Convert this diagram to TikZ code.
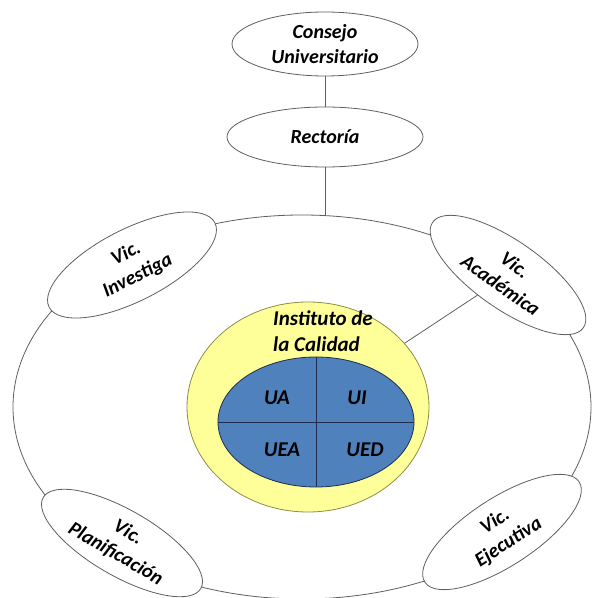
\documentclass[tikz,border=0pt]{standalone}
\usepackage{fontspec}
\setmainfont{Carlito}
\usepackage{tikz}
\usetikzlibrary{shapes.geometric}

\definecolor{linegray}{RGB}{95,95,95}
\definecolor{instyellow}{RGB}{255,255,153}
\definecolor{instedge}{RGB}{140,140,70}
\definecolor{unitblue}{RGB}{79,129,189}
\definecolor{unitedge}{RGB}{30,45,80}

\begin{document}
\begin{tikzpicture}[x=1pt, y=1pt,
  org/.style={ellipse, draw=linegray, line width=0.8pt, fill=white, inner sep=0pt,
    align=center, font=\fontsize{20}{25}\selectfont\bfseries\itshape},
  lbl/.style={inner sep=0pt, font=\fontsize{21}{26}\selectfont\bfseries\itshape}]
  \useasboundingbox (0,0) rectangle (592,598);

  \node[org, minimum width=578, minimum height=384] (ring) at (302,191) {};
  \node[org, minimum width=186, minimum height=64] (cu) at (325,554) {Consejo\\Universitario};
  \node[org, minimum width=196, minimum height=60] (rect) at (325,461) {Rectoría};

  \node[org, minimum width=186, minimum height=72, rotate=27] (inv) at (132,333) {Vic.\\Investiga};
  \node[org, minimum width=184, minimum height=68, rotate=-35] (acad) at (508,323) {Vic.\\Académica};
  \node[org, minimum width=182, minimum height=66, rotate=-30] (plan) at (122,55) {Vic.\\Planificación};
  \node[org, minimum width=184, minimum height=68, rotate=33] (ejec) at (502,66) {Vic.\\Ejecutiva};

  \node[ellipse, draw=instedge, line width=0.8pt, fill=instyellow,
    minimum width=242, minimum height=210] (inst) at (308,191) {};
  \node[ellipse, draw=unitedge, line width=0.8pt, fill=unitblue,
    minimum width=196, minimum height=130] (unid) at (316,176) {};
  \node[lbl, align=left] (instlbl) at (323,267) {Instituto de\\la Calidad};

  \draw[unitedge, line width=0.8pt] (unid.north) -- (unid.south);
  \draw[unitedge, line width=0.8pt] (unid.west) -- (unid.east);

  \node[lbl] (ua) at (277,200) {UA};
  \node[lbl] (ui) at (357,200) {UI};
  \node[lbl] (uea) at (282,148) {UEA};
  \node[lbl] (ued) at (365,148) {UED};

  \draw[linegray, line width=0.8pt] (cu) -- (rect);
  \draw[linegray, line width=0.8pt] (rect) -- (rect |- ring.north);
  \draw[linegray, line width=0.8pt] (inst) -- (acad);
\end{tikzpicture}
\end{document}
